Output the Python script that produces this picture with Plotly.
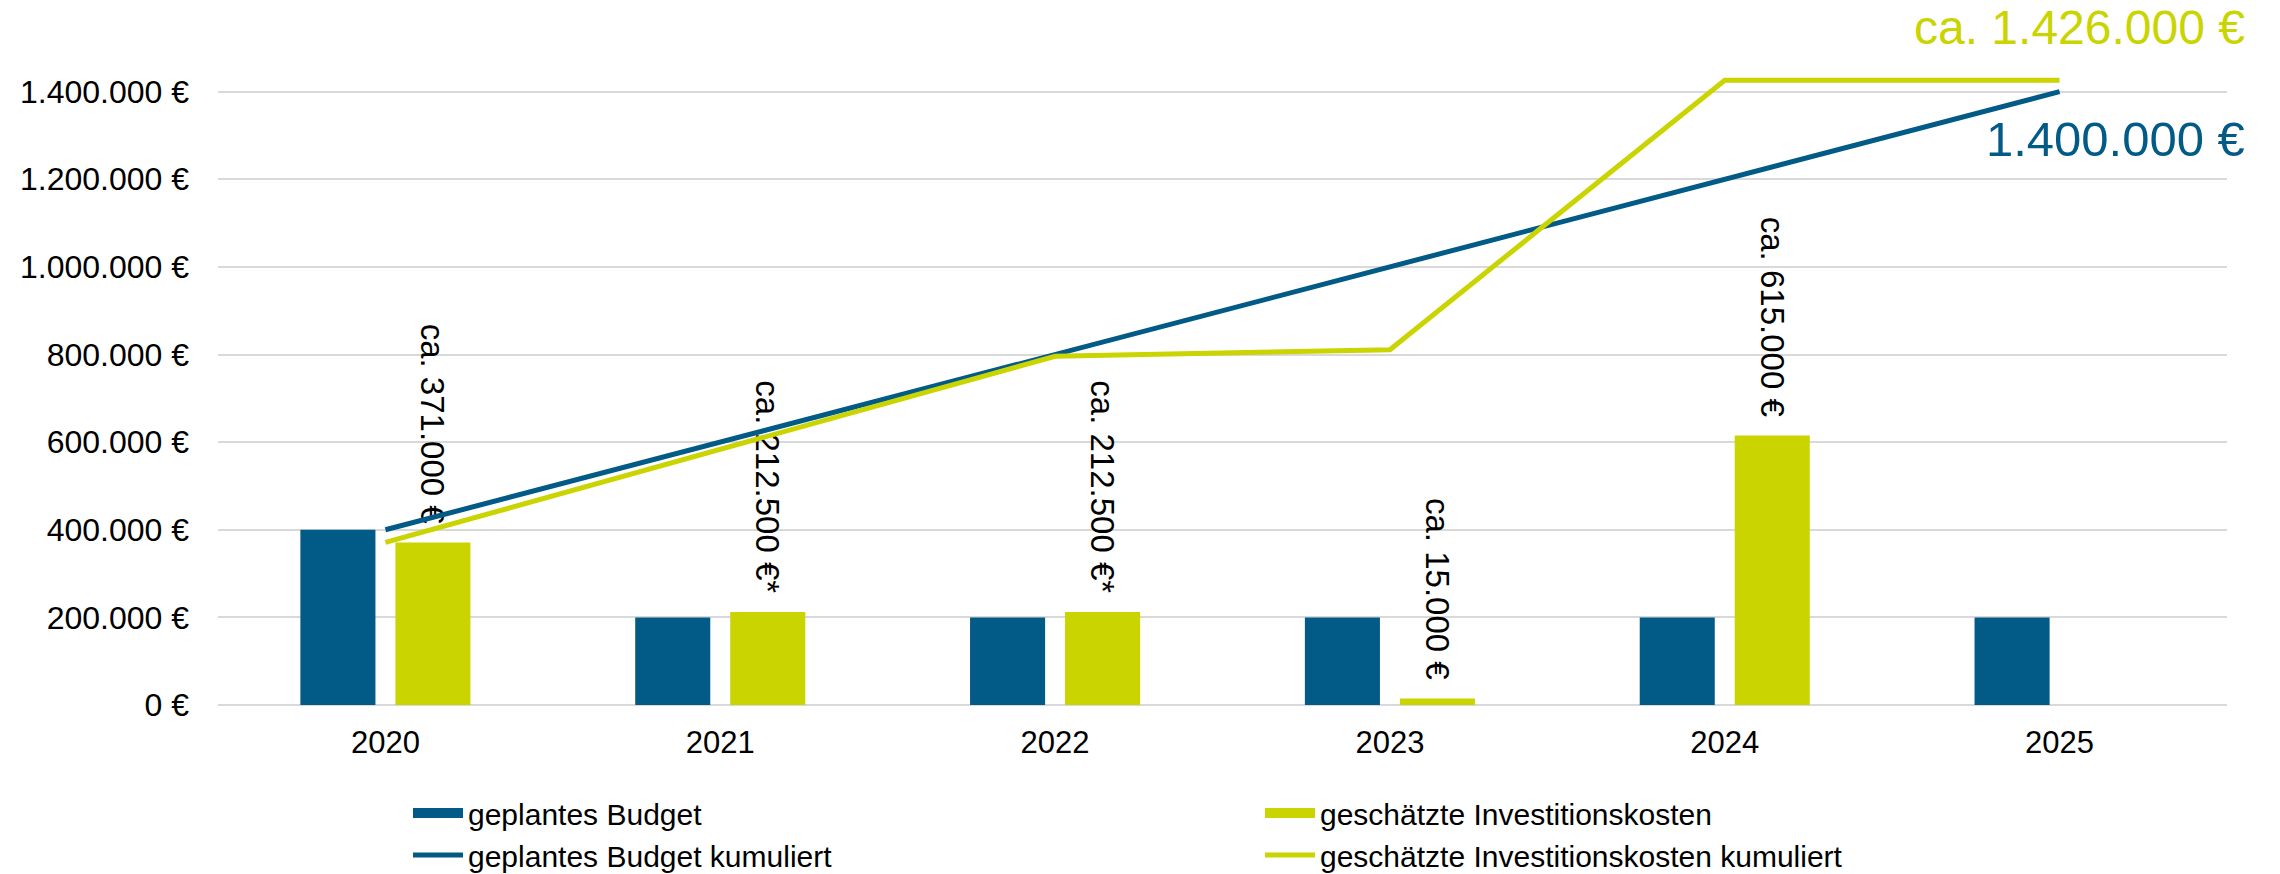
import plotly.graph_objects as go

years = ["2020", "2021", "2022", "2023", "2024", "2025"]
budget = [400000, 200000, 200000, 200000, 200000, 200000]
invest = [371000, 212500, 212500, 15000, 615000, None]
invest_labels = ["ca. 371.000 €", "ca. 212.500 €*", "ca. 212.500 €*", "ca. 15.000 €", "ca. 615.000 €", ""]
budget_cum = [400000, 600000, 800000, 1000000, 1200000, 1400000]
invest_cum = [371000, 583500, 796000, 811000, 1426000, 1426000]
ytick_vals = [0, 200000, 400000, 600000, 800000, 1000000, 1200000, 1400000]
ytick_text = ["0 €", "200.000 €", "400.000 €", "600.000 €", "800.000 €",
              "1.000.000 €", "1.200.000 €", "1.400.000 €"]

BLUE = "#025A86"
GREEN = "#C9D400"
FONT = "Liberation Sans, Arial, sans-serif"
PAD = "\u00a0\u2009"


def de_fmt(v):
    return f"{v:,.0f}".replace(",", ".")


# pad labels so they sit a little above the bar tops
padded_labels = [t + PAD if t else "" for t in invest_labels]

fig = go.Figure()
fig.add_trace(go.Bar(x=years, y=budget, name="geplantes Budget", showlegend=False,
                     marker=dict(color=BLUE, line=dict(width=0)), hoverinfo="skip"))
fig.add_trace(go.Bar(x=years, y=invest, name="geschätzte Investitionskosten", showlegend=False,
                     marker=dict(color=GREEN, line=dict(width=0)),
                     text=padded_labels, textposition="outside", textangle=90,
                     textfont=dict(family=FONT, size=33, color="#000000"),
                     constraintext="none", cliponaxis=False, hoverinfo="skip"))
fig.add_trace(go.Scatter(x=years, y=budget_cum, name="geplantes Budget kumuliert",
                         mode="lines", line=dict(color=BLUE, width=5),
                         cliponaxis=False, hoverinfo="skip", showlegend=False))
fig.add_trace(go.Scatter(x=years, y=invest_cum, name="geschätzte Investitionskosten kumuliert",
                         mode="lines", line=dict(color=GREEN, width=5),
                         cliponaxis=False, hoverinfo="skip", showlegend=False))

# legend entries (rectangular swatches for the bar series)
legend_items = [("geplantes Budget", BLUE, 16), ("geschätzte Investitionskosten", GREEN, 16),
                ("geplantes Budget kumuliert", BLUE, 5),
                ("geschätzte Investitionskosten kumuliert", GREEN, 5)]
for name, col, w in legend_items:
    fig.add_trace(go.Scatter(x=[None], y=[None], name=name, mode="lines",
                             line=dict(color=col, width=w), hoverinfo="skip"))

fig.add_annotation(xref="paper", x=1, xanchor="right", xshift=20,
                   yref="y", y=invest_cum[-1], yanchor="middle", yshift=53,
                   text=f"ca. {de_fmt(invest_cum[-1])} €", showarrow=False,
                   font=dict(family=FONT, size=48, color=GREEN))
fig.add_annotation(xref="paper", x=1, xanchor="right", xshift=20,
                   yref="y", y=budget_cum[-1], yanchor="middle", yshift=-47,
                   text=f"{de_fmt(budget_cum[-1])} €", showarrow=False,
                   font=dict(family=FONT, size=49, color=BLUE))

fig.update_layout(
    width=2280, height=874,
    margin=dict(l=218, r=53, t=4, b=169, pad=0, autoexpand=False),
    paper_bgcolor="white", plot_bgcolor="white",
    barmode="group", bargap=0.4325, bargroupgap=0.21,
    font=dict(family=FONT, size=31, color="#000000"),
    showlegend=True,
    legend=dict(orientation="h", x=(408 - 218) / 2009, xanchor="left",
                yref="container", y=1 - 787 / 874, yanchor="top",
                entrywidth=787, entrywidthmode="pixels", itemwidth=50,
                font=dict(family=FONT, size=30, color="#000000"),
                traceorder="normal", bgcolor="rgba(0,0,0,0)", tracegroupgap=0),
    xaxis=dict(type="category", showgrid=False, showline=False, zeroline=False,
               ticks="", tickfont=dict(size=31), ticklabelstandoff=16),
    yaxis=dict(range=[0, 1600000], tickvals=ytick_vals, ticktext=ytick_text,
               showgrid=True, gridcolor="#D9D9D9", gridwidth=2,
               zeroline=True, zerolinecolor="#D9D9D9", zerolinewidth=2,
               showline=False, ticks="", tickfont=dict(size=32),
               ticklabelstandoff=28),
)

fig.write_html("out.html", config={"displayModeBar": False},
               post_script="document.body.style.margin='0';")
